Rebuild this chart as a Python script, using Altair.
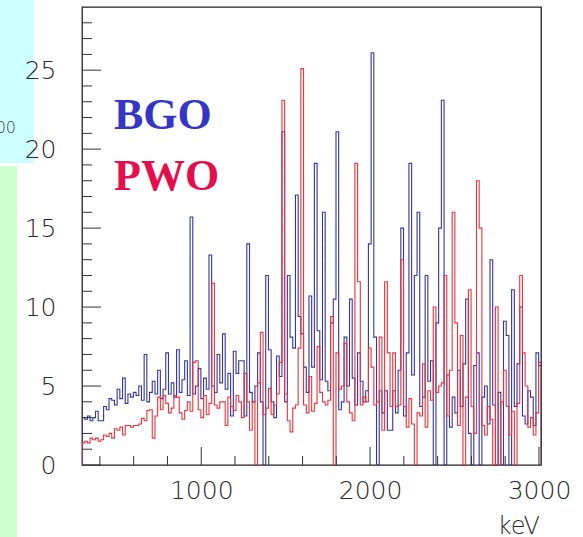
import altair as alt
import pandas as pd

# Histogram binning (keV)
BIN_START = 294
BIN_WIDTH = 16

# BGO counts per bin (blue)
bgo = [3.0, 2.9, 3.1, 2.8, 3.0, 3.4, 2.8, 2.8, 3.7, 3.5, 4.2, 4.1, 3.8, 4.8, 4.2, 5.5, 3.9, 4.5, 4.3, 4.6,
       4.4, 5.0, 4.1, 7.0, 4.0, 4.6, 5.3, 4.5, 6.0, 4.2,
       4.8, 7.1, 4.5, 5.2, 4.3, 7.3, 4.6, 5.4, 6.6, 4.4,
       15.7, 4.5, 5.0, 6.1, 4.2, 5.5, 4.8, 13.3, 5.0, 4.6, 7.0, 5.2, 8.3, 4.8,
       5.8, 3.1, 7.2, 5.8, 6.6, 6.6, 3.1, 14.0, 4.6, 4.0, 5.0, 7.1, 4.0, 0.0, 12.0, 7.3, 4.0, 3.0, 6.9, 5.6,
       21.1, 4.0, 12.0, 8.1, 7.4, 17.1,
       9.4, 8.3, 6.2, 4.6, 10.7, 6.2, 19.1, 8.5, 5.4, 16.0, 5.3, 4.7, 9.0, 10.5, 21.1, 3.5, 4.0, 8.1, 5.0, 10.5,
       5.5, 3.8, 7.1, 5.3, 4.0, 4.7, 14.0, 26.1, 8.1, 0.0, 4.7,
       3.3, 4.7, 2.2, 2.2, 4.7, 3.3, 6.0, 15.0, 3.1, 7.1, 19.1, 5.7, 12.0, 16.0, 3.7, 4.3, 12.0, 5.3, 6.6, 0.0,
       9.0, 15.0, 23.1, 0.0, 5.7, 2.4, 4.3, 3.3, 6.0, 3.7, 6.4, 10.5, 2.0, 0.0, 6.3, 7.1, 0.0, 4.3, 5.0, 2.6,
       13.0, 3.8, 0.0, 4.6, 0.0, 9.1, 8.2, 0.0, 11.1, 3.7, 6.4, 10.0, 3.1, 2.6, 4.7, 4.3, 2.5, 7.1, 6.3]

# PWO counts per bin (red)
pwo = [1.4, 1.5, 1.4, 1.7, 1.6, 1.7, 1.5, 1.6, 1.9, 1.8, 2.0, 1.7, 2.3, 2.2, 2.4, 1.9, 2.5, 2.5, 2.4, 2.5,
       2.5, 2.6, 2.95, 2.8, 3.45, 3.5, 1.7, 3.1, 4.3, 3.5,
       4.4, 3.9, 3.3, 3.6, 4.4, 4.3, 3.3, 2.9, 3.45, 4.0,
       3.4, 6.5, 6.6, 3.5, 3.0, 4.4, 3.2, 3.9, 11.5, 3.8, 3.6, 4.0, 4.0, 2.5,
       4.3, 3.7, 3.45, 4.4, 4.0, 3.0, 5.8, 4.0, 2.2, 4.0, 0.0, 5.2, 8.4, 3.2, 3.6, 4.85, 3.2, 3.8, 4.5, 6.5,
       23.1, 4.5, 2.8, 2.1, 3.6, 3.8,
       7.4, 25.1, 3.8, 3.3, 5.6, 3.4, 3.9, 7.5, 4.6, 4.0, 3.8, 4.1, 9.4, 0.0, 7.1, 4.8, 5.0, 7.7, 4.0, 3.3,
       2.8, 19.1, 11.6, 3.8, 4.3, 4.0, 7.4, 6.2, 3.8, 4.0, 8.1,
       2.2, 11.6, 7.1, 3.7, 7.1, 3.7, 3.8, 13.0, 3.7, 2.4, 4.2, 2.6, 0.0, 3.3, 3.1, 6.4, 2.4, 4.7, 4.1, 10.0,
       4.6, 5.0, 5.2, 12.0, 3.1, 6.0, 16.0, 9.0, 2.5, 8.2, 0.0, 4.3, 11.1, 3.7, 2.0, 18.0, 15.0, 2.5, 1.9, 3.7,
       2.9, 0.0, 10.0, 0.0, 4.0, 6.0, 3.7, 1.9, 3.4, 0.0, 3.9, 12.0, 7.1, 5.0, 2.4, 3.0, 1.9, 3.3, 6.5]

assert len(bgo) == 170, len(bgo)
assert len(pwo) == 170, len(pwo)

# Axis ticks / labels
x_label_values = [1000, 2000, 3000]
x_minor_ticks = [400, 600, 800, 1200, 1400, 1600, 1800, 2200, 2400, 2600, 2800]
y_label_values = [0, 5, 10, 15, 20, 25]
y_minor_ticks = [1, 2, 3, 4, 6, 7, 8, 9, 11, 12, 13, 14, 16, 17, 18, 19, 21, 22, 23, 24, 26, 27, 28]

X_DOMAIN = [294, 3012]
Y_DOMAIN = [0, 29]
W, H = 459, 458
AXIS_FONT = "DejaVu Sans"
AXIS_COLOR = "#2a2a2a"


def hist_df(vals):
    rows = [{"x": BIN_START, "y": 0.0, "idx": 0}]
    for i, v in enumerate(vals):
        rows.append({"x": BIN_START + BIN_WIDTH * i, "y": v, "idx": i + 1})
    end = BIN_START + BIN_WIDTH * len(vals)
    rows.append({"x": end, "y": vals[-1], "idx": len(vals) + 1})
    rows.append({"x": end, "y": 0.0, "idx": len(vals) + 2})
    return pd.DataFrame(rows)


xs = alt.Scale(domain=X_DOMAIN, nice=False, zero=False)
ys = alt.Scale(domain=Y_DOMAIN, nice=False, zero=False)

xaxis = alt.Axis(
    values=x_label_values, format="d", ticks=False, domain=False, grid=False,
    labelFont=AXIS_FONT, labelFontSize=25, labelFontWeight=200, labelColor=AXIS_COLOR,
    labelPadding=13, title=None, labelFlush=False, zindex=1)
yaxis = alt.Axis(
    values=y_label_values, ticks=False, domain=False, grid=False,
    labelFont=AXIS_FONT, labelFontSize=25, labelFontWeight=200, labelColor=AXIS_COLOR,
    labelPadding=26, title=None, labelFlush=False, zindex=1)

one = pd.DataFrame({"a": [0]})

bg_cyan = alt.Chart(one).mark_rect(color="#ccffff").encode(
    x=alt.value(-82), x2=alt.value(-48), y=alt.value(-7), y2=alt.value(156))
bg_green = alt.Chart(one).mark_rect(color="#ccffcc").encode(
    x=alt.value(-82), x2=alt.value(-65), y=alt.value(159), y2=alt.value(530))
side_text = alt.Chart(one).mark_text(
    text="00", font=AXIS_FONT, fontSize=16, fontWeight=200, color="#444444",
    align="right", baseline="alphabetic").encode(x=alt.value(-66), y=alt.value(126))

blue_line = alt.Chart(hist_df(bgo)).mark_line(
    interpolate="step-after", color="#3535a5", strokeWidth=1.1, clip=True
).encode(
    x=alt.X("x:Q", scale=xs, axis=xaxis),
    y=alt.Y("y:Q", scale=ys, axis=yaxis),
    order="idx:Q",
)
red_line = alt.Chart(hist_df(pwo)).mark_line(
    interpolate="step-after", color="#f0323c", strokeWidth=1.1, clip=True
).encode(
    x=alt.X("x:Q", scale=xs, axis=xaxis),
    y=alt.Y("y:Q", scale=ys, axis=yaxis),
    order="idx:Q",
)

tick_color = "#333333"
ymaj = alt.Chart(pd.DataFrame({"y": y_label_values})).mark_rule(color=tick_color, strokeWidth=1).encode(
    y=alt.Y("y:Q", scale=ys, axis=yaxis), x=alt.value(0), x2=alt.value(19))
ymin = alt.Chart(pd.DataFrame({"y": y_minor_ticks})).mark_rule(color=tick_color, strokeWidth=1).encode(
    y=alt.Y("y:Q", scale=ys, axis=yaxis), x=alt.value(0), x2=alt.value(10))
xmaj = alt.Chart(pd.DataFrame({"x": x_label_values})).mark_rule(color=tick_color, strokeWidth=1).encode(
    x=alt.X("x:Q", scale=xs, axis=xaxis), y=alt.value(H), y2=alt.value(H - 18))
xmin = alt.Chart(pd.DataFrame({"x": x_minor_ticks})).mark_rule(color=tick_color, strokeWidth=1).encode(
    x=alt.X("x:Q", scale=xs, axis=xaxis), y=alt.value(H), y2=alt.value(H - 9))

bgo_text = alt.Chart(one).mark_text(
    text="BGO", font="Liberation Serif", fontSize=44, fontWeight="bold", color="#3636c6",
    align="left", baseline="alphabetic").encode(x=alt.value(32), y=alt.value(122))
pwo_text = alt.Chart(one).mark_text(
    text="PWO", font="Liberation Serif", fontSize=44, fontWeight="bold", color="#e60d4d",
    align="left", baseline="alphabetic").encode(x=alt.value(32), y=alt.value(183))
kev_text = alt.Chart(one).mark_text(
    text="keV", font=AXIS_FONT, fontSize=24, fontWeight=200, color=AXIS_COLOR,
    align="right", baseline="alphabetic").encode(x=alt.value(458), y=alt.value(527))

chart = alt.layer(
    bg_cyan, bg_green, side_text,
    blue_line, red_line,
    ymaj, ymin, xmaj, xmin,
    bgo_text, pwo_text, kev_text,
).properties(
    width=W, height=H,
    padding={"left": 82, "top": 7, "right": 42, "bottom": 72},
    autosize=alt.AutoSizeParams(type="none"),
    background="white",
).configure_view(stroke="#222222", strokeWidth=1.3)

chart.save("out.html", embed_options={"renderer": "svg", "actions": False})
